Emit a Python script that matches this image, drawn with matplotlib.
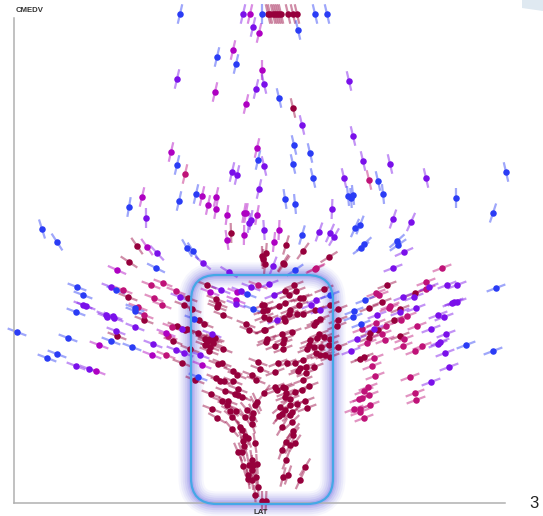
import numpy as np
import matplotlib
matplotlib.use("Agg")
import matplotlib.pyplot as plt
from matplotlib.collections import LineCollection
from matplotlib.patches import FancyBboxPatch, Polygon

# values: (LAT column, CMEDV row), grouped by colour
blue_pts = [(180, 14), (262, 14), (315, 14), (327, 14), (217, 57), (236, 64), (279, 98), (177, 165),
            (310, 153), (293, 164), (313, 178), (378, 181), (506, 172), (353, 195), (348, 196), (351, 198),
            (383, 194), (456, 198), (285, 199), (295, 204), (493, 213), (360, 225), (355, 228), (302, 235),
            (196, 194), (179, 201), (129, 207), (42, 229), (57, 242), (187, 248), (193, 251), (397, 241),
            (398, 245), (364, 244), (361, 248), (156, 268), (295, 270), (77, 287), (116, 290), (83, 295),
            (135, 308), (135, 311), (76, 312), (194, 319), (17, 332), (68, 338), (111, 341), (132, 347),
            (57, 354), (47, 358), (198, 377), (247, 294), (253, 309), (330, 295), (496, 288), (365, 300),
            (354, 311), (353, 317), (361, 324), (466, 345), (493, 351), (298, 30), (294, 145), (258, 160)]
violet_pts = [(243, 14), (253, 27), (177, 79), (264, 84), (256, 89), (264, 166), (232, 172), (237, 175),
              (259, 189), (146, 218), (251, 220), (249, 223), (264, 230), (157, 253), (349, 81), (302, 125),
              (353, 136), (363, 161), (390, 164), (344, 178), (426, 178), (332, 209), (393, 219), (411, 222),
              (319, 232), (330, 233), (334, 237), (404, 252), (203, 263), (229, 272), (393, 268), (111, 287),
              (180, 297), (83, 305), (86, 306), (106, 315), (107, 317), (113, 316), (114, 318), (135, 327),
              (182, 329), (116, 331), (212, 334), (153, 344), (176, 350), (184, 353), (200, 355), (76, 366),
              (89, 369), (221, 290), (241, 291), (236, 304), (251, 287), (269, 284), (273, 266), (274, 295),
              (277, 320), (316, 300), (311, 305), (320, 310), (429, 287), (447, 285), (457, 285), (414, 297),
              (403, 297), (454, 302), (457, 302), (452, 303), (416, 308), (400, 312), (377, 315), (438, 315),
              (444, 317), (431, 329), (374, 329), (446, 334), (357, 339), (440, 342), (438, 344), (351, 351),
              (445, 353), (449, 367), (431, 382)]
magenta_pts = [(250, 14), (259, 33), (233, 50), (262, 70), (215, 92), (246, 104), (257, 148), (171, 152),
               (202, 196), (216, 197), (142, 197), (208, 205), (216, 209), (244, 213), (246, 213), (227, 215),
               (257, 215), (244, 235), (227, 240), (147, 247), (279, 230), (274, 242), (117, 270), (166, 333),
               (99, 345), (152, 355), (202, 365), (96, 371), (210, 292), (237, 292), (236, 300)]
rose_pts = [(185, 174), (369, 180), (123, 290), (151, 285), (163, 283), (176, 291), (154, 298), (162, 305),
            (138, 307), (144, 315), (172, 327), (168, 336), (166, 355), (258, 285), (316, 268), (315, 269),
            (442, 268), (426, 282), (426, 289), (376, 293), (379, 295), (390, 306), (389, 308), (407, 316),
            (401, 320), (376, 323), (386, 326), (417, 326), (362, 329), (382, 334), (404, 339), (385, 340),
            (367, 343), (422, 346), (403, 346), (415, 351), (374, 358), (372, 366), (375, 376), (410, 377),
            (368, 387), (364, 391), (415, 393), (369, 395), (362, 398), (359, 399), (416, 400), (370, 405),
            (354, 409), (360, 409), (360, 412), (364, 418)]
maroon_pts = [(268, 14), (270, 14), (273, 14), (275, 14), (277, 14), (279, 14), (281, 14), (288, 14),
              (293, 14), (297, 14), (293, 108), (231, 233), (137, 246), (266, 253), (262, 256), (286, 245),
              (303, 251), (329, 257), (129, 262), (263, 259), (265, 264), (128, 297), (188, 298), (184, 305),
              (192, 309), (144, 320), (199, 320), (204, 324), (177, 326), (185, 330), (117, 336), (198, 333),
              (173, 341), (190, 349), (182, 363), (195, 380), (207, 285), (216, 299), (218, 304), (217, 307),
              (223, 315), (262, 305), (263, 311), (246, 324), (249, 330), (264, 330), (187, 329), (205, 339),
              (210, 339), (215, 338), (207, 342), (208, 340), (213, 339), (205, 345), (210, 347), (213, 343),
              (209, 351), (223, 349), (218, 364), (222, 363), (233, 371), (237, 375), (258, 362), (260, 369),
              (252, 375), (256, 380), (216, 378), (220, 381), (224, 381), (233, 381), (238, 389), (225, 391),
              (264, 393), (211, 394), (235, 394), (238, 395), (242, 397), (222, 401), (228, 401), (257, 402),
              (255, 405), (227, 405), (212, 409), (230, 411), (236, 411), (247, 410), (253, 413), (217, 418),
              (232, 417), (245, 417), (252, 418), (252, 424), (232, 429), (240, 427), (242, 430), (245, 436),
              (248, 438), (243, 441), (255, 443), (244, 446), (238, 452), (242, 452), (252, 460), (257, 464),
              (243, 466), (249, 465), (253, 465), (252, 470), (248, 475), (248, 479), (256, 477), (252, 480),
              (258, 487), (255, 495), (262, 501), (266, 501), (282, 427), (292, 422), (293, 431), (293, 435),
              (286, 442), (290, 445), (295, 443), (282, 450), (286, 460), (305, 467), (300, 480), (288, 475),
              (283, 477), (283, 263), (387, 285), (415, 293), (382, 302), (369, 308), (400, 309), (394, 320),
              (378, 330), (370, 333), (400, 336), (369, 338), (364, 357), (360, 359), (284, 264), (294, 285),
              (285, 291), (296, 291), (289, 295), (300, 298), (303, 298), (285, 303), (279, 306), (264, 305),
              (267, 310), (299, 305), (290, 310), (297, 314), (303, 314), (289, 314), (269, 319), (264, 317),
              (285, 321), (284, 318), (324, 289), (330, 305), (315, 310), (338, 309), (320, 319), (316, 322),
              (314, 325), (338, 320), (337, 326), (265, 330), (292, 332), (282, 334), (319, 334), (324, 337),
              (317, 338), (330, 339), (267, 339), (284, 339), (310, 340), (266, 342), (275, 346), (283, 343),
              (283, 349), (309, 345), (314, 347), (321, 347), (329, 345), (307, 349), (316, 353), (330, 357),
              (325, 355), (338, 347), (320, 355), (303, 360), (278, 363), (287, 363), (295, 363), (314, 367),
              (300, 368), (306, 367), (298, 371), (275, 372), (306, 373), (303, 380), (275, 387), (277, 390),
              (283, 387), (285, 388), (309, 386), (302, 390), (295, 392), (286, 393), (285, 397), (290, 399),
              (305, 401), (280, 407), (290, 405), (297, 404), (307, 408), (282, 414), (292, 412), (285, 410),
              (279, 416), (290, 415)]

groups = [maroon_pts, rose_pts, magenta_pts, violet_pts, blue_pts]
colors = ["#96003c", "#bf1278", "#ae00c2", "#7a10ea", "#2a3cf5"]

x_label = "LAT"
y_label = "CMEDV"
corner_label = "3"


def segments(pts):
    # short stroke through each point: tilted in at the top, shallow through the
    # middle band, steep again towards the foot of the funnel
    pts = np.array(pts, dtype=float)
    dx = pts[:, 0] - 262
    row = pts[:, 1]
    adx = np.maximum(np.abs(dx), 1)
    c = np.where(row >= 340, np.clip(row - 390, 0, None) * 0.9, np.clip(285 - row, 0, None) * 1.5)
    slope = np.maximum(0.38, c / adx)
    low = np.arctan(1 / slope)
    start = np.where(dx < 0, 203, 185)
    t = np.clip((row - start) / 70, 0, 1)
    tilt = np.radians(13)
    phi = -tilt + t * (low + tilt)
    d = np.stack([-np.sign(dx) * np.sin(phi), np.cos(phi)], axis=1)
    return np.stack([pts - 10 * d, pts + 10 * d], axis=1)


fig = plt.figure(figsize=(5.43, 5.16), dpi=100)
ax = fig.add_axes([14 / 543, 13 / 516, 491 / 543, 485 / 516])
ax.set_xlim(14, 505)
ax.set_ylim(503, 18)
ax.set_xticks([])
ax.set_yticks([])
ax.patch.set_alpha(0)
for s in ["top", "right"]:
    ax.spines[s].set_visible(False)
for s in ["left", "bottom"]:
    ax.spines[s].set_color("#b0b0b0")
    ax.spines[s].set_linewidth(1.1)

# pale corner of the slide behind
ax.add_patch(Polygon([(522, 0), (543, 0), (543, 11), (522, 8)], closed=True, fc="#dfe9f1", ec="none", clip_on=False))

# highlight box, glow first
box = dict(boxstyle="round,pad=0,rounding_size=26", clip_on=False)
for lw, alpha in [(18, 0.05), (15, 0.07), (12, 0.08), (9, 0.1), (6, 0.13), (3.5, 0.16)]:
    ax.add_patch(FancyBboxPatch((191, 275), 142, 229, fc="none", ec="#5a50e0", lw=lw, alpha=alpha, zorder=1, **box))

for pts, c in zip(groups, colors):
    ax.add_collection(LineCollection(segments(pts), colors=c, linewidths=1.6, alpha=0.45, zorder=2, clip_on=False))
for pts, c in zip(groups, colors):
    p = np.array(pts)
    ax.scatter(p[:, 0], p[:, 1], s=22, color=c, linewidths=0, zorder=3, clip_on=False)

ax.add_patch(FancyBboxPatch((191, 275), 142, 229, fc="none", ec="#45a8e6", lw=1.6, zorder=4, **box))

font = ["Liberation Sans", "DejaVu Sans"]
ax.text(16, 10, y_label, fontsize=5.6, fontweight="bold", color="#333333", family=font, ha="left", va="center", clip_on=False)
ax.text(261, 513, x_label, fontsize=5.6, fontweight="bold", color="#333333", family=font, ha="center", va="center", clip_on=False)
ax.text(534, 504, corner_label, fontsize=12, color="#222222", family=font, ha="center", va="center", clip_on=False)

fig.savefig("out.png", dpi=100)
